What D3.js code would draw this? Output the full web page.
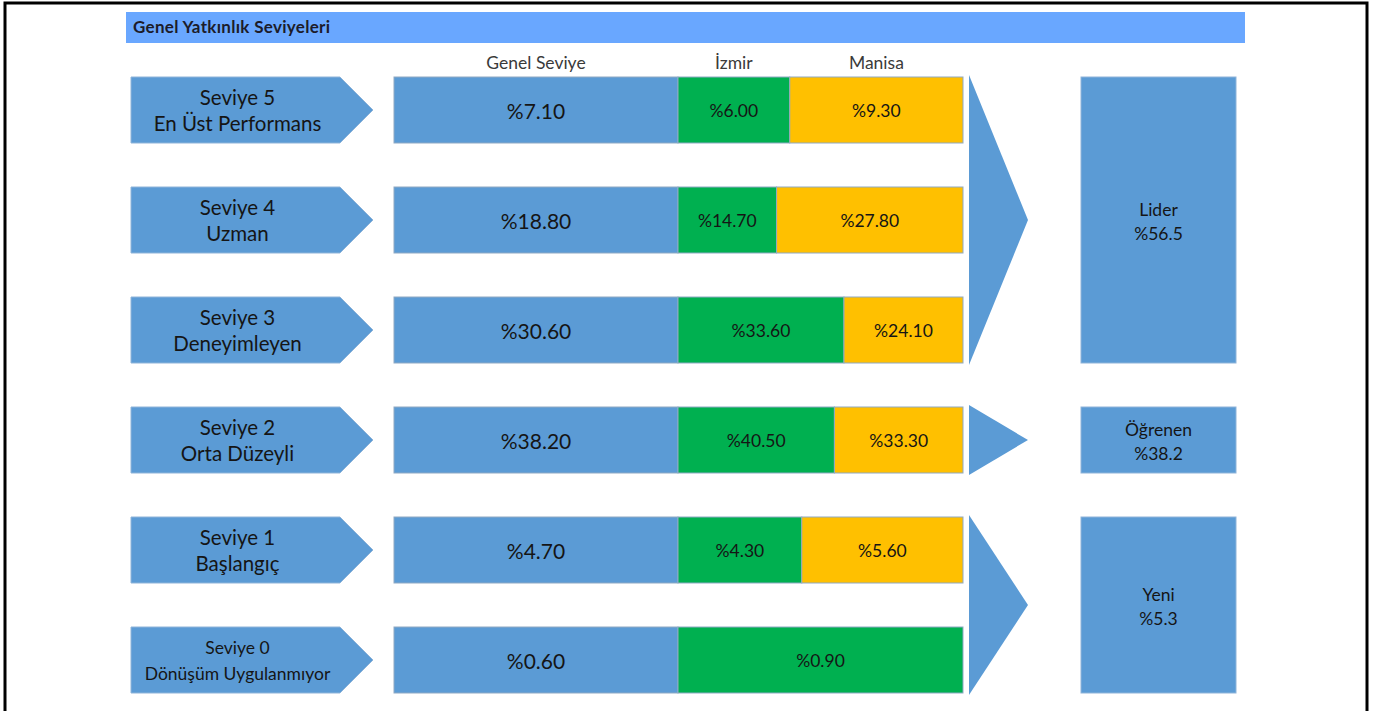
<!DOCTYPE html>
<html>
<head>
<meta charset="utf-8">
<script src="https://cdn.jsdelivr.net/npm/d3@7"></script>
<style>
  body { margin: 0; background: #fff; }
  svg { display: block; font-family: Lato, "Open Sans", sans-serif; }
</style>
</head>
<body>
<div id="chart"></div>
<script>
// seviye etiketleri ve degerler (ustten alta)
var levels = ["Seviye 5", "Seviye 4", "Seviye 3", "Seviye 2", "Seviye 1", "Seviye 0"];
var levelNames = ["En Üst Performans", "Uzman", "Deneyimleyen", "Orta Düzeyli", "Başlangıç", "Dönüşüm Uygulanmıyor"];
var genel = [7.10, 18.80, 30.60, 38.20, 4.70, 0.60];
var izmir = [6.00, 14.70, 33.60, 40.50, 4.30, 0.90];
var manisa = [9.30, 27.80, 24.10, 33.30, 5.60, null];
var columns = ["Genel Seviye", "İzmir", "Manisa"];

// gruplar
var groupNames = ["Lider", "Öğrenen", "Yeni"];
var groupValues = [56.5, 38.2, 5.3];
var groupFirst = ["Seviye 5", "Seviye 2", "Seviye 1"];
var groupLast = ["Seviye 3", "Seviye 2", "Seviye 0"];

var title = "Genel Yatkınlık Seviyeleri";

var width = 1377, height = 711;
var blue = "#5b9bd5", green = "#00b050", yellow = "#ffc000";
var ink = "#151515";

var svg = d3.select("#chart").append("svg")
  .attr("width", width)
  .attr("height", height);

// cerceve
svg.append("rect")
  .attr("x", 5).attr("y", 3)
  .attr("width", 1362).attr("height", 730)
  .attr("fill", "none")
  .attr("stroke", "#000")
  .attr("stroke-width", 3);

// baslik
svg.append("rect")
  .attr("x", 126).attr("y", 12)
  .attr("width", 1119).attr("height", 31)
  .attr("fill", "#69a7ff");
svg.append("text")
  .attr("x", 133).attr("y", 33)
  .attr("font-size", 17)
  .attr("letter-spacing", 0.3)
  .attr("font-weight", "bold")
  .attr("fill", "#1c1c2a")
  .text(title);

var y = d3.scaleBand()
  .domain(levels)
  .range([77, 693])
  .paddingInner(0.4)
  .paddingOuter(0);

var arrowX0 = 131, arrowX1 = 340, arrowTip = 373;
var barX0 = 394, barMid = 678, barX1 = 963;

// sol oklar
var arrows = svg.append("g");
levels.forEach(function(lv, i) {
  var top = y(lv), bot = top + y.bandwidth(), mid = top + y.bandwidth() / 2;
  arrows.append("path")
    .attr("d", `M${arrowX0},${top}L${arrowX1},${top}L${arrowTip},${mid}L${arrowX1},${bot}L${arrowX0},${bot}Z`)
    .attr("fill", blue)
    .attr("stroke", "#8fb4d9")
    .attr("stroke-width", 1);
  var small = i === 5;
  var cx = (arrowX0 + arrowX1) / 2 + 2;
  arrows.append("text")
    .attr("x", cx).attr("y", mid - 13)
    .attr("text-anchor", "middle")
    .attr("dominant-baseline", "central")
    .attr("font-size", small ? 17.5 : 20.5)
    .attr("fill", ink)
    .text(lv);
  arrows.append("text")
    .attr("x", cx).attr("y", mid + 13)
    .attr("text-anchor", "middle")
    .attr("dominant-baseline", "central")
    .attr("font-size", small ? 17.5 : 20.5)
    .attr("fill", ink)
    .text(levelNames[i]);
});

// cubuklar
var fmt = d => "%" + d.toFixed(2);
var bars = svg.append("g");
var splitScales = levels.map(function(lv, i) {
  return d3.scaleLinear()
    .domain([0, izmir[i] + (manisa[i] || 0)])
    .range([barMid, barX1]);
});

levels.forEach(function(lv, i) {
  var top = y(lv), h = y.bandwidth(), mid = top + h / 2;
  var sx = splitScales[i];
  var segs = [
    {x0: barX0, x1: barMid, fill: blue, label: fmt(genel[i]), size: 21},
    {x0: sx(0), x1: sx(izmir[i]), fill: green, label: fmt(izmir[i]), size: 17.5}
  ];
  if (manisa[i] != null)
    segs.push({x0: sx(izmir[i]), x1: sx(izmir[i] + manisa[i]), fill: yellow, label: fmt(manisa[i]), size: 17.5});

  segs.forEach(function(s) {
    bars.append("rect")
      .attr("x", s.x0).attr("y", top)
      .attr("width", s.x1 - s.x0).attr("height", h)
      .attr("fill", s.fill)
      .attr("stroke", "#8fa9c4")
      .attr("stroke-width", 1);
    bars.append("text")
      .attr("x", (s.x0 + s.x1) / 2).attr("y", mid)
      .attr("text-anchor", "middle")
      .attr("dominant-baseline", "central")
      .attr("font-size", s.size)
      .attr("fill", ink)
      .text(s.label);
  });
});

// sutun basliklari (ust satirin bolumlerine hizali)
var s0 = splitScales[0];
var headX = [(barX0 + barMid) / 2, (s0(0) + s0(izmir[0])) / 2, (s0(izmir[0]) + s0(izmir[0] + manisa[0])) / 2];
svg.append("g").selectAll("text")
  .data(columns)
  .enter().append("text")
  .attr("x", (d, i) => headX[i])
  .attr("y", 62)
  .attr("text-anchor", "middle")
  .attr("dominant-baseline", "central")
  .attr("font-size", 17.5)
  .attr("fill", "#3a3a3a")
  .text(d => d);

// sag taraf: ucgen oklar ve grup kutulari
var triX0 = 969, triTip = 1028, boxX0 = 1081, boxX1 = 1236;
var right = svg.append("g");
groupNames.forEach(function(g, i) {
  var top = y(groupFirst[i]), bot = y(groupLast[i]) + y.bandwidth();
  var mid = (top + bot) / 2;
  right.append("path")
    .attr("d", `M${triX0},${top - 2}L${triTip},${mid}L${triX0},${bot + 2}Z`)
    .attr("fill", blue);
  right.append("rect")
    .attr("x", boxX0).attr("y", top)
    .attr("width", boxX1 - boxX0).attr("height", bot - top)
    .attr("fill", blue)
    .attr("stroke", "#8fb4d9")
    .attr("stroke-width", 1);
  right.append("text")
    .attr("x", (boxX0 + boxX1) / 2).attr("y", mid - 11)
    .attr("text-anchor", "middle")
    .attr("dominant-baseline", "central")
    .attr("font-size", 17.5)
    .attr("fill", ink)
    .text(g);
  right.append("text")
    .attr("x", (boxX0 + boxX1) / 2).attr("y", mid + 13)
    .attr("text-anchor", "middle")
    .attr("dominant-baseline", "central")
    .attr("font-size", 17.5)
    .attr("fill", ink)
    .text("%" + groupValues[i]);
});
</script>
</body>
</html>
